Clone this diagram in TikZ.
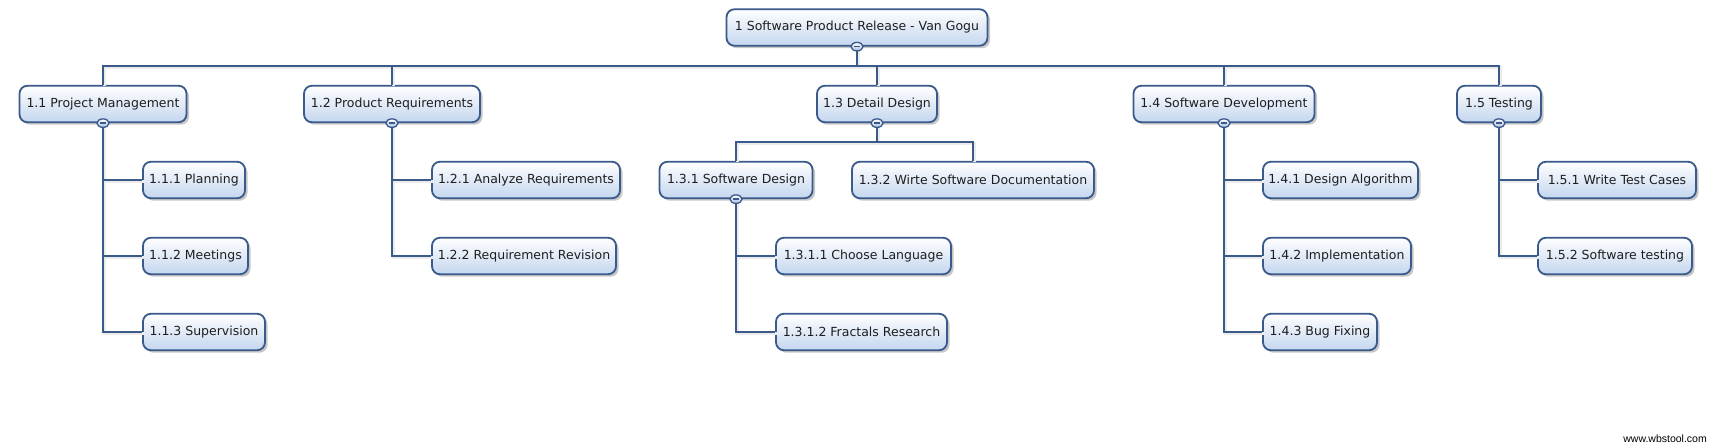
\documentclass[tikz,border=0pt]{standalone}
\usepackage{fontspec}
\setmainfont{DejaVu Sans}
\newfontfamily\credfont{Liberation Sans}
\usetikzlibrary{shadows,shapes.geometric}
\definecolor{bdr}{HTML}{3A5A8C}
\definecolor{fillb}{HTML}{C4D6EF}
\definecolor{txt}{HTML}{1E1E1E}
\tikzset{
  wbs/.style={draw=bdr, line width=1.8pt, rounded corners=8pt,
    top color=white, bottom color=fillb, text=txt,
    drop shadow={shadow xshift=2.5pt, shadow yshift=-2.5pt, fill=black, opacity=0.22},
    font=\fontsize{12.5}{15}\selectfont, inner sep=0pt, minimum height=36.5pt},
  link/.style={draw=bdr, line width=2.2pt, line join=miter,
    preaction={draw=black!8, line width=2.2pt, transform canvas={xshift=1.5pt, yshift=-1.5pt}}},
  collapse/.style={ellipse, draw=bdr, line width=1.3pt, top color=white, bottom color=fillb!80!bdr,
    minimum width=12pt, minimum height=8.5pt, inner sep=0pt,
    path picture={\draw[bdr, line width=1.6pt] ([xshift=-3pt]path picture bounding box.center) -- ([xshift=3pt]path picture bounding box.center);}},
}
\begin{document}
\begin{tikzpicture}[x=1pt,y=-1pt]
\useasboundingbox[fill=white] (0,0) rectangle (1714,446);
\coordinate (bus) at (0,66);
\coordinate (sub) at (0,142);
% nodes
\node[wbs, minimum width=261pt] (root) at (857,27.5) {1 Software Product Release - Van Gogu};
\node[wbs, minimum width=167pt] (n11) at (103,104) {1.1 Project Management};
\node[wbs, minimum width=176pt] (n12) at (392,104) {1.2 Product Requirements};
\node[wbs, minimum width=120pt] (n13) at (877,104) {1.3 Detail Design};
\node[wbs, minimum width=181pt] (n14) at (1224,104) {1.4 Software Development};
\node[wbs, minimum width=84pt] (n15) at (1499,104) {1.5 Testing};
\node[wbs, minimum width=102pt] (n111) at (194,180) {1.1.1 Planning};
\node[wbs, minimum width=105pt] (n112) at (195.5,256) {1.1.2 Meetings};
\node[wbs, minimum width=122pt] (n113) at (204,332) {1.1.3 Supervision};
\node[wbs, minimum width=188pt] (n121) at (526,180) {1.2.1 Analyze Requirements};
\node[wbs, minimum width=184pt] (n122) at (524,256) {1.2.2 Requirement Revision};
\node[wbs, minimum width=153pt] (n131) at (736,180) {1.3.1 Software Design};
\node[wbs, minimum width=242pt] (n132) at (973,180) {1.3.2 Wirte Software Documentation};
\node[wbs, minimum width=175pt] (n1311) at (863.5,256) {1.3.1.1 Choose Language};
\node[wbs, minimum width=171pt] (n1312) at (861.5,332) {1.3.1.2 Fractals Research};
\node[wbs, minimum width=155pt] (n141) at (1340.5,180) {1.4.1 Design Algorithm};
\node[wbs, minimum width=148pt] (n142) at (1337,256) {1.4.2 Implementation};
\node[wbs, minimum width=114pt] (n143) at (1320,332) {1.4.3 Bug Fixing};
\node[wbs, minimum width=158pt] (n151) at (1617,180) {1.5.1 Write Test Cases};
\node[wbs, minimum width=154pt] (n152) at (1615,256) {1.5.2 Software testing};
\node[anchor=east, font=\credfont\fontsize{10.5}{12}\selectfont, inner sep=0pt] (cred) at (1707,438.5) {www.wbstool.com};
% connectors
\draw[link] (root.south) -- (root.south |- bus);
\draw[link] (n11.north) -- (n11.north |- bus) -- (n15.north |- bus) -- (n15.north);
\foreach \n in {n12,n13,n14} \draw[link] (\n.north |- bus) -- (\n.north);
\draw[link] (n11.south) |- (n113.west);
\foreach \c in {n111,n112} \draw[link] (n11.south |- \c.west) -- (\c.west);
\draw[link] (n12.south) |- (n122.west);
\draw[link] (n12.south |- n121.west) -- (n121.west);
\draw[link] (n13.south) -- (n13.south |- sub);
\draw[link] (n131.north) -- (n131.north |- sub) -- (n132.north |- sub) -- (n132.north);
\draw[link] (n131.south) |- (n1312.west);
\draw[link] (n131.south |- n1311.west) -- (n1311.west);
\draw[link] (n14.south) |- (n143.west);
\foreach \c in {n141,n142} \draw[link] (n14.south |- \c.west) -- (\c.west);
\draw[link] (n15.south) |- (n152.west);
\draw[link] (n15.south |- n151.west) -- (n151.west);
% collapse markers
\node[collapse] (c0) at (root.south) {};
\node[collapse] (c11) at (n11.south) {};
\node[collapse] (c12) at (n12.south) {};
\node[collapse] (c13) at (n13.south) {};
\node[collapse] (c14) at (n14.south) {};
\node[collapse] (c15) at (n15.south) {};
\node[collapse] (c131) at (n131.south) {};
\end{tikzpicture}
\end{document}
